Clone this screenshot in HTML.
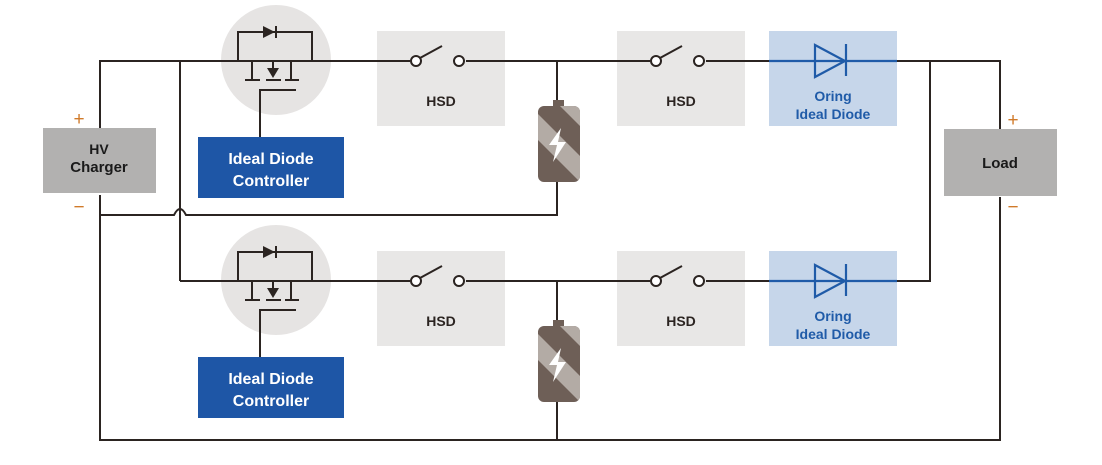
<!DOCTYPE html>
<html><head><meta charset="utf-8"><style>
html,body{margin:0;padding:0;background:#fff;}
svg{display:block;font-family:"Liberation Sans",sans-serif;font-weight:bold;}
</style></head><body>
<svg width="1102" height="465" viewBox="0 0 1102 465" xmlns="http://www.w3.org/2000/svg">
<defs>
<g id="rail">
  <circle cx="276" cy="60" r="55" fill="#e6e4e3"/>
  <rect x="377" y="31" width="128" height="95" fill="#e8e7e6"/>
  <rect x="617" y="31" width="128" height="95" fill="#e8e7e6"/>
  <rect x="769" y="31" width="128" height="95" fill="#c6d6ea"/>
  <path d="M180 61 H410 M466 61 H650 M706 61 H769" stroke="#2b2421" stroke-width="2" fill="none"/>
  <path d="M238 61 V32 H312 V61 M252 61 V80 M245 80 H260 M266 80 H281 M291 61 V80 M285 80 H299 M260 137 V90 H296" stroke="#2b2421" stroke-width="2" fill="none"/>
  <polygon points="263,26 263,38 275,32" fill="#2b2421"/>
  <path d="M276 26 V38" stroke="#2b2421" stroke-width="2"/>
  <path d="M273 61 V70" stroke="#2b2421" stroke-width="2"/>
  <polygon points="267,68 279,68 273,78" fill="#2b2421"/>
  <path d="M420 58 L442 46" stroke="#2b2421" stroke-width="2"/>
  <circle cx="416" cy="61" r="5" fill="#fff" stroke="#2b2421" stroke-width="2"/>
  <circle cx="459" cy="61" r="5" fill="#fff" stroke="#2b2421" stroke-width="2"/>
  <path d="M660 58 L682 46" stroke="#2b2421" stroke-width="2"/>
  <circle cx="656" cy="61" r="5" fill="#fff" stroke="#2b2421" stroke-width="2"/>
  <circle cx="699" cy="61" r="5" fill="#fff" stroke="#2b2421" stroke-width="2"/>
  <text x="441" y="106" font-size="14" text-anchor="middle" fill="#2b2421">HSD</text>
  <text x="681" y="106" font-size="14" text-anchor="middle" fill="#2b2421">HSD</text>
  <path d="M769 61 H897 M846 44 V76" stroke="#1f5ba8" stroke-width="2.2" fill="none"/>
  <polygon points="815,45 815,77 845,61" fill="none" stroke="#1f5ba8" stroke-width="2.2"/>
  <text x="833" y="101" font-size="14" text-anchor="middle" fill="#1f5ba8">Oring</text>
  <text x="833" y="119" font-size="14" text-anchor="middle" fill="#1f5ba8">Ideal Diode</text>
  <path d="M897 61 H930" stroke="#2b2421" stroke-width="2"/>
  <rect x="198" y="137" width="146" height="61" fill="#1e56a6"/>
  <text x="271" y="164" font-size="16" text-anchor="middle" fill="#fff">Ideal Diode</text>
  <text x="271" y="186" font-size="16" text-anchor="middle" fill="#fff">Controller</text>
  <path d="M557 61 V101" stroke="#2b2421" stroke-width="2"/>
  <rect x="553" y="100" width="11" height="8" fill="#6e5f57"/>
  <clipPath id="bc"><rect x="538" y="106" width="42" height="76" rx="6"/></clipPath>
  <g clip-path="url(#bc)">
    <rect x="538" y="106" width="42" height="76" fill="#6e5f57"/>
    <polygon points="538,114 538,140 580,182 580,156" fill="#b3aba5"/>
    <polygon points="560,106 580,106 580,126" fill="#b3aba5"/>
  </g>
  <polygon points="561,128 549,145 557,145 553,162 566,142 558,142" fill="#fff"/>
</g>
</defs>
<use href="#rail"/>
<use href="#rail" transform="translate(0,220)"/>
<g stroke="#2b2421" stroke-width="2" fill="none">
  <path d="M100 128 V61 H180 V281"/>
  <path d="M100 195 V440 H1000 V197"/>
  <path d="M1000 129 V61 H930 V281 H897"/>
  <path d="M100 215 H174 Q180 203 186 215 H557 V182"/>
  <path d="M557 402 V440"/>
</g>
<rect x="43" y="128" width="113" height="65" fill="#b2b1b0"/>
<text x="99" y="154" font-size="14" text-anchor="middle" fill="#1a1a1a">HV</text>
<text x="99" y="172" font-size="15" text-anchor="middle" fill="#1a1a1a">Charger</text>
<rect x="944" y="129" width="113" height="67" fill="#b2b1b0"/>
<text x="1000" y="168" font-size="15" text-anchor="middle" fill="#1a1a1a">Load</text>
<g fill="#d07a2a" font-size="19" font-weight="normal" text-anchor="middle">
  <text x="79" y="125">+</text>
  <text x="79" y="213">−</text>
  <text x="1013" y="126">+</text>
  <text x="1013" y="213">−</text>
</g>
</svg>
</body></html>
